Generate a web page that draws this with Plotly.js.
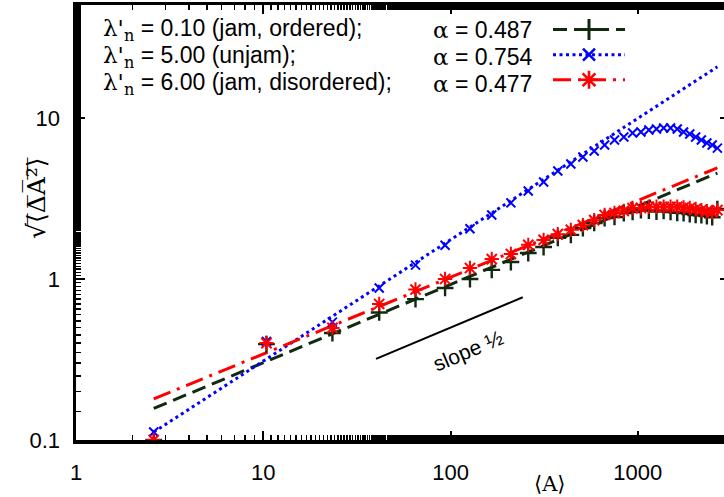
<!DOCTYPE html>
<html><head><meta charset="utf-8">
<script src="https://cdn.plot.ly/plotly-3.0.1.min.js"></script>
<style>html,body{margin:0;padding:0;overflow:hidden;background:#fff}</style>
</head><body><div id="chart"></div>
<script>
// cluster area <A> for each point
const areaA = [2.6, 10.4, 23.4, 41.6, 65, 93.5, 127, 166, 210, 260, 314, 374, 439, 509, 585, 665,
  751, 842, 938, 1039, 1146, 1258, 1374, 1496, 1624, 1756, 1894, 2037, 2185, 2338, 2497, 2660];
// sqrt(<dA^2>) per series
const jamOrdered = [0.1, 0.394, 0.462, 0.62, 0.75, 0.88, 1.0, 1.14, 1.275, 1.45, 1.58, 1.80, 1.88, 2.07, 2.23, 2.39,
  2.43, 2.57, 2.61, 2.68, 2.66, 2.62, 2.65, 2.61, 2.58, 2.57, 2.53, 2.50, 2.49, 2.46, 2.42, 2.72];
const unjam = [0.112, 0.41, 0.54, 0.88, 1.22, 1.62, 2.05, 2.50, 2.97, 3.52, 4.00, 4.69, 5.18, 5.73, 6.24, 6.79,
  7.30, 7.63, 8.07, 8.19, 8.42, 8.54, 8.66, 8.66, 8.54, 8.19, 7.95, 7.63, 7.30, 7.00, 6.80, 6.50];
const jamDisordered = [0.1, 0.40, 0.497, 0.70, 0.86, 1.0, 1.17, 1.33, 1.43, 1.63, 1.75, 1.90, 2.02, 2.16, 2.32, 2.50,
  2.57, 2.65, 2.76, 2.76, 2.81, 2.81, 2.81, 2.81, 2.81, 2.78, 2.76, 2.72, 2.68, 2.64, 2.60, 2.68];
// power-law fits (end points)
const fitA = [2.6, 2660];
const fitOrdered = [0.157, 4.55];
const fitUnjam = [0.112, 20.8];
const fitDisordered = [0.18, 4.9];
// slope 1/2 guide
const slopeA = [40, 243];
const slopeV = [0.319, 0.77];
// labels
const seriesLabels = ["0.10 (jam, ordered);", "5.00 (unjam);", "6.00 (jam, disordered);"];
const alphaLabels = ["0.487", "0.754", "0.477"];
const xTicks = [1, 10, 100, 1000];
const yTicks = [0.1, 1, 10];

const cBlack = '#0f2a0f', cBlue = '#0000ff', cRed = '#ff0000';
const styles = [
  {color: cBlack, dash: '14px,7px', sym: 'cross-thin-open', size: 12, mw: 2.4},
  {color: cBlue, dash: '3px,3.5px', sym: 'x-thin-open', size: 9, mw: 2},
  {color: cRed, dash: '18px,7px,3px,7px', sym: 'asterisk-open', size: 12, mw: 2}
];
const fits = [fitOrdered, fitUnjam, fitDisordered];
const vals = [jamOrdered, unjam, jamDisordered];

const traces = [];
for (let i = 0; i < 3; i++) {
  traces.push({x: fitA, y: fits[i], mode: 'lines', showlegend: false, hoverinfo: 'skip',
    line: {color: styles[i].color, width: 3, dash: styles[i].dash}});
}
for (let i = 0; i < 3; i++) {
  traces.push({x: areaA, y: vals[i], mode: 'markers', showlegend: false,
    marker: {symbol: styles[i].sym, size: styles[i].size, color: styles[i].color,
      line: {color: styles[i].color, width: styles[i].mw}}});
}
for (let i = 0; i < 3; i++) {
  traces.push({x: [null], y: [null], mode: 'lines+markers', name: '\u00a0', showlegend: true,
    line: {color: styles[i].color, width: 3, dash: styles[i].dash},
    marker: {symbol: styles[i].sym, size: styles[i].size + 3, color: styles[i].color,
      line: {color: styles[i].color, width: styles[i].mw + 0.6}}});
}
traces.push({x: slopeA, y: slopeV, mode: 'lines', showlegend: false, hoverinfo: 'skip',
  line: {color: '#000', width: 2}});

const L = 76, R = 729, T = 5, B = 440;
const px = v => (v - L) / (R - L);
const py = v => (B - v) / (B - T);
const serif = "'DejaVu Serif', 'Liberation Serif', serif";
const lam = `<span style="font-family:${serif}">λ'<sub>n</sub></span>`;
const alp = `<span style="font-family:${serif}">α</span>`;
const rowsY = [30, 57, 84];
const annotations = [];
for (let i = 0; i < 3; i++) {
  annotations.push({xref: 'paper', yref: 'paper', x: px(101), y: py(rowsY[i]), xanchor: 'left', yanchor: 'middle',
    showarrow: false, text: `${lam} = ${seriesLabels[i]}`, font: {size: 23, color: '#000'}});
  annotations.push({xref: 'paper', yref: 'paper', x: px(431), y: py(rowsY[i]), xanchor: 'left', yanchor: 'middle',
    showarrow: false, text: `${alp} = ${alphaLabels[i]}`, font: {size: 23, color: '#000'}});
}
annotations.push({xref: 'paper', yref: 'paper', x: px(550), y: py(484), xanchor: 'center', yanchor: 'middle',
  showarrow: false, text: '⟨A⟩', font: {family: serif, size: 21, color: '#000'}});
annotations.push({xref: 'paper', yref: 'paper', x: px(36), y: py(198), xanchor: 'center', yanchor: 'middle',
  showarrow: false, textangle: -90, text: '√⟨̅Δ̅A̅²̅⟩̅', font: {family: serif, size: 25, color: '#000'}});
annotations.push({xref: 'paper', yref: 'paper', x: px(468), y: py(350), xanchor: 'center', yanchor: 'middle',
  showarrow: false, textangle: -23, text: 'slope ½', font: {size: 21, color: '#000'}});

const axisCommon = {
  type: 'log', showline: true, linewidth: 3.5, linecolor: '#000', mirror: 'allticks',
  ticks: 'inside', ticklen: 9, tickwidth: 2, tickcolor: '#000', showgrid: false, zeroline: false,
  tickfont: {family: "'Liberation Sans', Arial, sans-serif", size: 22, color: '#000'},
  minor: {ticks: 'inside', ticklen: 5, tickwidth: 1.5, tickcolor: '#000', showgrid: false}
};
const layout = {
  width: 734, height: 497,
  margin: {l: L, r: 734 - R, t: T, b: 497 - B},
  paper_bgcolor: '#fff', plot_bgcolor: '#fff',
  font: {family: "'Liberation Sans', Arial, sans-serif", color: '#000'},
  xaxis: Object.assign({}, axisCommon, {range: [0, 3.487], tickvals: xTicks, ticktext: xTicks.map(String),
    ticklabelstandoff: 10}),
  yaxis: Object.assign({}, axisCommon, {range: [-1, 1.702], tickvals: yTicks, ticktext: yTicks.map(String),
    ticklabelstandoff: 8}),
  showlegend: true,
  legend: {x: px(548), y: py(12), xanchor: 'left', yanchor: 'top', bgcolor: 'rgba(0,0,0,0)',
    font: {size: 17}, itemwidth: 72, tracegroupgap: 0, itemclick: false, itemdoubleclick: false},
  annotations: annotations
};
Plotly.newPlot('chart', traces, layout, {displayModeBar: false, staticPlot: true});
</script></body></html>
